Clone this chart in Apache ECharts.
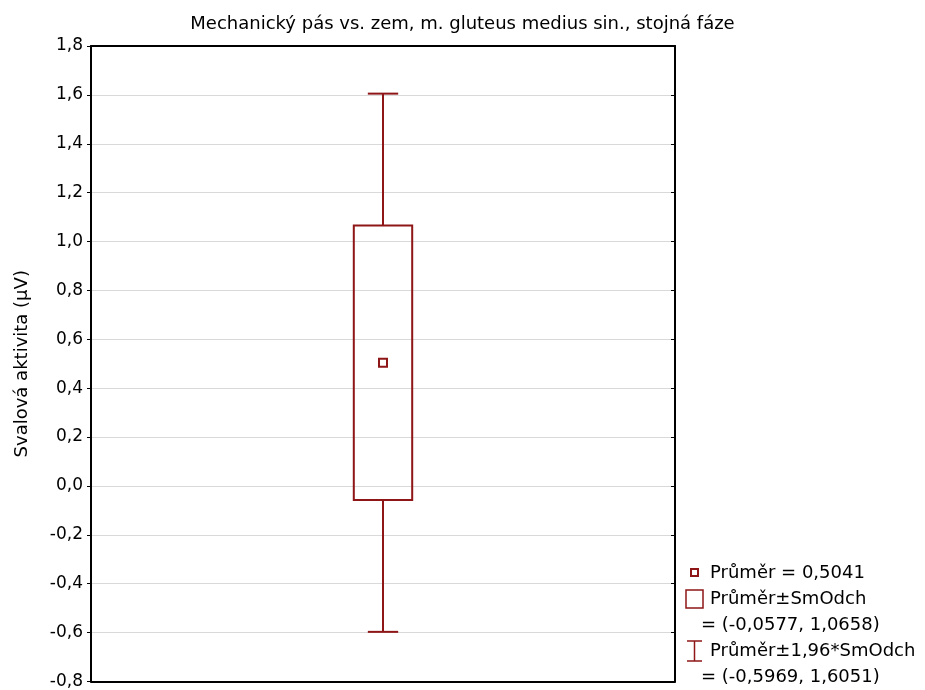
<!DOCTYPE html>
<html>
<head>
<meta charset="utf-8">
<script src="https://cdn.jsdelivr.net/npm/echarts@6/dist/echarts.min.js"></script>
<style>
  html, body { margin: 0; padding: 0; background: #fff; }
  #chart { width: 925px; height: 690px; }
</style>
</head>
<body>
<div id="chart"></div>
<script>
// Summary statistics for the single group
const categories = [''];
const meanValues = [0.5041];
const sdLow = [-0.0577];
const sdHigh = [1.0658];
const ciLow = [-0.5969];
const ciHigh = [1.6051];

// Axis range and ticks
const yMin = -0.8;
const yMax = 1.8;
const yStep = 0.2;

const titleText = 'Mechanický pás vs. zem, m. gluteus medius sin., stojná fáze';
const yAxisName = 'Svalová aktivita (µV)';

const RED = '#8e1616';
const FONT = 'DejaVu Sans';

function fmt(v, digits) {
  if (Math.abs(v) < 1e-9) v = 0;
  return v.toFixed(digits).replace('.', ',');
}

const seriesData = categories.map((c, i) => [i, ciLow[i], sdLow[i], meanValues[i], sdHigh[i], ciHigh[i]]);

function renderItem(params, api) {
  const idx = api.value(0);
  const band = api.size([1, 0])[0];
  const boxHalf = band * 0.05;
  const capHalf = band * 0.026;
  const x = api.coord([idx, 0])[0];
  const yLo2 = api.coord([idx, api.value(1)])[1];
  const yLo1 = api.coord([idx, api.value(2)])[1];
  const yMean = api.coord([idx, api.value(3)])[1];
  const yHi1 = api.coord([idx, api.value(4)])[1];
  const yHi2 = api.coord([idx, api.value(5)])[1];
  const stroke = { stroke: RED, lineWidth: 2, fill: null };
  return {
    type: 'group',
    children: [
      { type: 'line', shape: { x1: x, y1: yHi2, x2: x, y2: yHi1 }, style: stroke },
      { type: 'line', shape: { x1: x, y1: yLo1, x2: x, y2: yLo2 }, style: stroke },
      { type: 'line', shape: { x1: x - capHalf, y1: yHi2, x2: x + capHalf, y2: yHi2 }, style: stroke },
      { type: 'line', shape: { x1: x - capHalf, y1: yLo2, x2: x + capHalf, y2: yLo2 }, style: stroke },
      { type: 'rect', shape: { x: x - boxHalf, y: yHi1, width: boxHalf * 2, height: yLo1 - yHi1 },
        style: { stroke: RED, lineWidth: 2, fill: 'rgba(0,0,0,0)' } },
      { type: 'rect', shape: { x: x - 4, y: yMean - 4, width: 8, height: 8 },
        style: { stroke: RED, lineWidth: 2, fill: '#fff' } }
    ]
  };
}

// Legend block drawn at the lower right of the plot
const lx = 686;
const rowY = [573, 599, 625, 651, 677];
const legendFont = '18px "' + FONT + '"';
const legendItems = [
  // mean marker
  { type: 'rect', shape: { x: lx + 5, y: rowY[0] - 4, width: 7, height: 7 },
    style: { stroke: RED, lineWidth: 2, fill: '#fff' } },
  { type: 'text', x: lx + 24, y: rowY[0], style: { text: 'Průměr = ' + fmt(meanValues[0], 4), font: legendFont, fill: '#000', verticalAlign: 'middle' } },
  // box icon
  { type: 'rect', shape: { x: lx, y: rowY[1] - 9, width: 17, height: 18 },
    style: { stroke: RED, lineWidth: 1.5, fill: '#fff' } },
  { type: 'text', x: lx + 24, y: rowY[1], style: { text: 'Průměr±SmOdch', font: legendFont, fill: '#000', verticalAlign: 'middle' } },
  { type: 'text', x: lx + 15, y: rowY[2], style: { text: '= (' + fmt(sdLow[0], 4) + ', ' + fmt(sdHigh[0], 4) + ')', font: legendFont, fill: '#000', verticalAlign: 'middle' } },
  // whisker icon
  { type: 'line', shape: { x1: lx + 8.5, y1: rowY[3] - 10, x2: lx + 8.5, y2: rowY[3] + 10 }, style: { stroke: RED, lineWidth: 1.5 } },
  { type: 'line', shape: { x1: lx + 1, y1: rowY[3] - 10, x2: lx + 16, y2: rowY[3] - 10 }, style: { stroke: RED, lineWidth: 1.5 } },
  { type: 'line', shape: { x1: lx + 1, y1: rowY[3] + 10, x2: lx + 16, y2: rowY[3] + 10 }, style: { stroke: RED, lineWidth: 1.5 } },
  { type: 'text', x: lx + 24, y: rowY[3], style: { text: 'Průměr±1,96*SmOdch', font: legendFont, fill: '#000', verticalAlign: 'middle' } },
  { type: 'text', x: lx + 15, y: rowY[4], style: { text: '= (' + fmt(ciLow[0], 4) + ', ' + fmt(ciHigh[0], 4) + ')', font: legendFont, fill: '#000', verticalAlign: 'middle' } }
];

const chart = echarts.init(document.getElementById('chart'), null, { renderer: 'canvas' });
chart.setOption({
  animation: false,
  backgroundColor: '#fff',
  title: {
    text: titleText,
    left: 'center',
    top: 10,
    textStyle: { fontFamily: FONT, fontSize: 18, fontWeight: 'normal', color: '#000' }
  },
  grid: {
    left: 91, right: 250, top: 46, bottom: 8,
    show: false
  },
  xAxis: [
    {
      type: 'category',
      data: categories,
      position: 'bottom',
      axisLine: { show: true, onZero: false, lineStyle: { color: '#000', width: 2 } },
      axisTick: { show: false },
      axisLabel: { show: false },
      splitLine: { show: false }
    },
    {
      type: 'category',
      data: categories,
      position: 'top',
      axisLine: { show: true, onZero: false, lineStyle: { color: '#000', width: 2 } },
      axisTick: { show: false },
      axisLabel: { show: false },
      splitLine: { show: false }
    }
  ],
  yAxis: [
    {
      type: 'value',
      min: yMin, max: yMax, interval: yStep,
      name: yAxisName,
      nameLocation: 'middle',
      nameGap: 60,
      nameTextStyle: { fontFamily: FONT, fontSize: 18, color: '#000' },
      axisLine: { show: true, onZero: false, lineStyle: { color: '#000', width: 2 } },
      axisTick: { show: true, inside: false, length: 4, lineStyle: { color: '#000', width: 1 } },
      axisLabel: { margin: 8, fontFamily: FONT, fontSize: 17, color: '#000', formatter: v => fmt(v, 1) },
      splitLine: { show: true, showMinLine: false, showMaxLine: false, lineStyle: { color: '#d9d9d9', width: 1 } }
    },
    {
      type: 'value',
      position: 'right',
      min: yMin, max: yMax, interval: yStep,
      axisLine: { show: true, onZero: false, lineStyle: { color: '#000', width: 2 } },
      axisTick: { show: true, inside: true, length: 4, lineStyle: { color: '#000', width: 1 } },
      axisLabel: { show: false },
      splitLine: { show: false }
    }
  ],
  series: [{
    type: 'custom',
    renderItem: renderItem,
    data: seriesData,
    encode: { x: 0, y: [1, 2, 3, 4, 5] },
    z: 5
  }],
  graphic: legendItems
});
</script>
</body>
</html>
